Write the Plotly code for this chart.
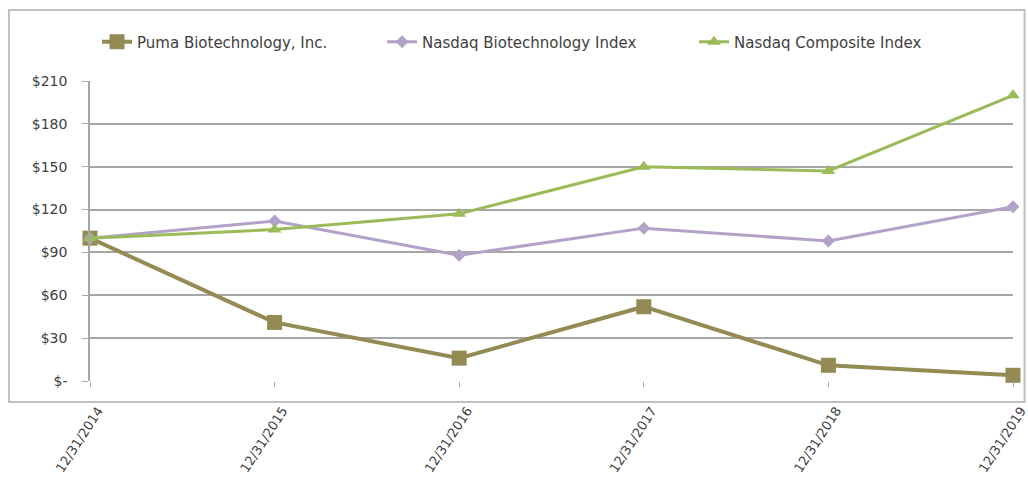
import plotly.graph_objects as go

dates = ["12/31/2014", "12/31/2015", "12/31/2016", "12/31/2017", "12/31/2018", "12/31/2019"]
puma = [100, 41, 16, 52, 11, 4]
nbi = [100, 112, 88, 107, 98, 122]
ncomp = [100, 106, 117, 150, 147, 200]

y_ticks = [0, 30, 60, 90, 120, 150, 180, 210]
y_labels = ["$-", "$30", "$60", "$90", "$120", "$150", "$180", "$210"]

xs = list(range(len(dates)))

FONT = "'DejaVu Sans', 'Liberation Sans', sans-serif"

fig = go.Figure()
fig.add_trace(go.Scatter(
    x=xs, y=puma, name="Puma Biotechnology, Inc.", mode="lines+markers",
    line=dict(color="#948A54", width=4),
    marker=dict(symbol="square", size=15, color="#948A54"),
    cliponaxis=False, legend="legend"))
fig.add_trace(go.Scatter(
    x=xs, y=nbi, name="Nasdaq Biotechnology Index", mode="lines+markers",
    line=dict(color="#B3A2C7", width=3),
    marker=dict(symbol="diamond", size=10, color="#B3A2C7"),
    cliponaxis=False, legend="legend2"))
fig.add_trace(go.Scatter(
    x=xs, y=ncomp, name="Nasdaq Composite Index", mode="lines+markers",
    line=dict(color="#9BBB59", width=3),
    marker=dict(symbol="triangle-up", size=12, color="#9BBB59"),
    cliponaxis=False, legend="legend3"))

fig.add_shape(type="rect", xref="paper", yref="paper",
              x0=-0.0878, x1=1.0125, y0=-0.07, y1=1.237,
              line=dict(color="#BFBFBF", width=2), layer="below")

leg_common = dict(orientation="h", xanchor="left", y=1.13, yanchor="middle",
                  font=dict(family=FONT, size=15, color="#404040"),
                  bgcolor="rgba(0,0,0,0)")

fig.update_layout(
    width=1028, height=488,
    margin=dict(l=90, r=15, t=81, b=107, autoexpand=False),
    paper_bgcolor="white", plot_bgcolor="white",
    font=dict(family=FONT, size=13, color="#404040"),
    showlegend=True,
    legend=dict(x=0.0076, **leg_common),
    legend2=dict(x=0.3164, **leg_common),
    legend3=dict(x=0.6544, **leg_common),
    xaxis=dict(range=[0, 5], tickmode="array", tickvals=xs, ticktext=dates,
               tickangle=-57, ticks="outside", ticklen=5, tickcolor="#A6A6A6",
               ticklabelstandoff=11, ticklabelshift=8, ticklabeloverflow="allow",
               automargin=False,
               showgrid=False, zeroline=False, showline=False,
               tickfont=dict(family=FONT, size=13, color="#404040")),
    yaxis=dict(range=[0, 210], tickmode="array", tickvals=y_ticks, ticktext=y_labels,
               showgrid=True, gridcolor="#A6A6A6", gridwidth=1.5,
               zeroline=False, showline=True, linecolor="#A6A6A6", linewidth=1.5,
               ticks="outside", ticklen=6, tickcolor="#A6A6A6",
               ticklabelstandoff=12, automargin=False,
               tickfont=dict(family=FONT, size=14, color="#404040")),
)

fig.write_html("out.html")
